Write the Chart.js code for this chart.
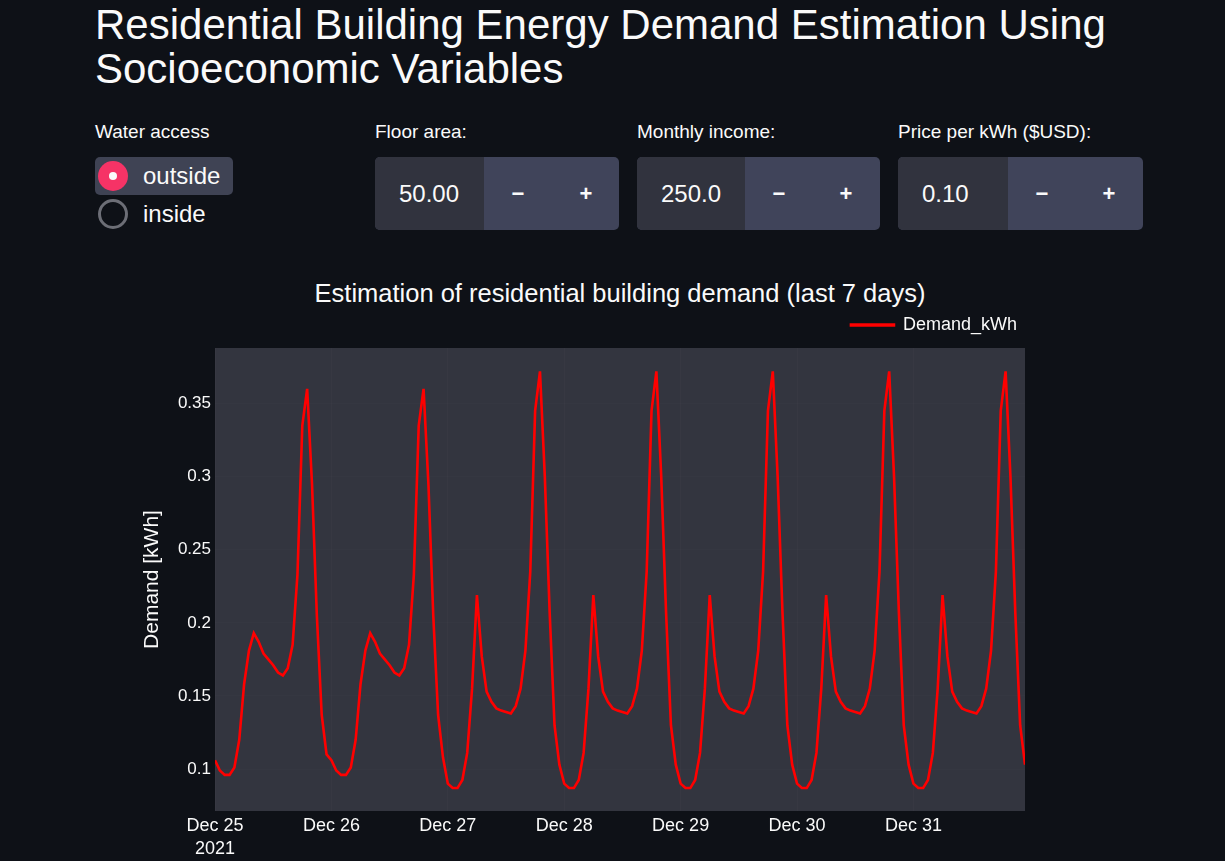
<!DOCTYPE html>
<html>
<head>
<meta charset="utf-8">
<script src="https://cdn.jsdelivr.net/npm/chart.js@4.4.1/dist/chart.umd.min.js"></script>
<style>
  body {
    margin: 0;
    width: 1225px;
    height: 861px;
    overflow: hidden;
    position: relative;
    background: #0e1117;
    color: #fafafa;
    font-family: "Liberation Sans", Arial, sans-serif;
  }
  h1 {
    position: absolute;
    left: 95px;
    top: 3px;
    margin: 0;
    font-size: 42px;
    line-height: 44px;
    font-weight: normal;
  }
  .label {
    position: absolute;
    top: 121px;
    font-size: 19px;
    line-height: 22px;
  }
  .radio {
    position: absolute;
    left: 95px;
    width: 138px;
    height: 38px;
    border-radius: 5px;
  }
  .radio.on { background: #3f4354; }
  .dot {
    position: absolute;
    left: 3px;
    top: 4px;
    width: 30px;
    height: 30px;
    border-radius: 50%;
    box-sizing: border-box;
  }
  .radio.on .dot { background: #f63366; }
  .radio.on .dot::after {
    content: "";
    position: absolute;
    left: 11px;
    top: 11px;
    width: 8px;
    height: 8px;
    border-radius: 50%;
    background: #fafafa;
  }
  .radio.off .dot { border: 3px solid #6c6e76; }
  .radio span {
    position: absolute;
    left: 48px;
    top: 0;
    line-height: 38px;
    font-size: 24px;
  }
  .num {
    position: absolute;
    top: 157px;
    height: 73px;
    border-radius: 5px;
    overflow: hidden;
    background: #40445a;
    font-size: 24px;
  }
  .num .val {
    position: absolute;
    left: 0;
    top: 0;
    height: 73px;
    background: #31333e;
    line-height: 73px;
    box-sizing: border-box;
    padding-left: 24px;
  }
  .num .btn {
    position: absolute;
    top: 0;
    line-height: 73px;
    font-weight: bold;
    font-size: 22px;
    transform: translateX(-50%);
  }
  #chartTitle {
    position: absolute;
    left: 0;
    width: 1240px;
    top: 278px;
    text-align: center;
    font-size: 25.5px;
    line-height: 30px;
  }
  #wrap {
    position: absolute;
    left: 100px;
    top: 308px;
  }
</style>
</head>
<body>
<h1>Residential Building Energy Demand Estimation Using<br>Socioeconomic Variables</h1>

<div class="label" style="left:95px">Water access</div>
<div class="radio on" style="top:157px"><div class="dot"></div><span>outside</span></div>
<div class="radio off" style="top:195px"><div class="dot"></div><span>inside</span></div>

<div class="label" style="left:375px">Floor area:</div>
<div class="num" style="left:375px;width:244px">
  <div class="val" style="width:109px">50.00</div>
  <div class="btn" style="left:143px">&minus;</div>
  <div class="btn" style="left:211px">+</div>
</div>

<div class="label" style="left:637px">Monthly income:</div>
<div class="num" style="left:637px;width:243px">
  <div class="val" style="width:108px">250.0</div>
  <div class="btn" style="left:142px">&minus;</div>
  <div class="btn" style="left:209px">+</div>
</div>

<div class="label" style="left:898px">Price per kWh ($USD):</div>
<div class="num" style="left:898px;width:245px">
  <div class="val" style="width:110px">0.10</div>
  <div class="btn" style="left:144px">&minus;</div>
  <div class="btn" style="left:211px">+</div>
</div>

<div id="chartTitle">Estimation of residential building demand (last 7 days)</div>
<div id="wrap"><canvas id="chart-demand" width="925" height="553"></canvas></div>

<script>
// hourly estimate, Dec 25 00:00 .. Dec 31 23:00
var dayTicks = [0, 24, 48, 72, 96, 120, 144];
var dayLabels = [['Dec 25', '2021'], 'Dec 26', 'Dec 27', 'Dec 28', 'Dec 29', 'Dec 30', 'Dec 31'];
var yTicks = [0.1, 0.15, 0.2, 0.25, 0.3, 0.35];
var yTickLabels = ['0.1', '0.15', '0.2', '0.25', '0.3', '0.35'];

var dec25 = [0.106, 0.099, 0.096, 0.096, 0.101, 0.120, 0.158, 0.181, 0.193, 0.187, 0.179, 0.175,
             0.171, 0.166, 0.164, 0.169, 0.185, 0.233, 0.335, 0.360, 0.295, 0.205, 0.137, 0.110];
var dec26 = [0.106, 0.099, 0.096, 0.096, 0.101, 0.120, 0.158, 0.181, 0.193, 0.187, 0.179, 0.175,
             0.171, 0.166, 0.164, 0.169, 0.185, 0.233, 0.335, 0.360, 0.295, 0.205, 0.137, 0.108];
var dec27 = [0.090, 0.087, 0.087, 0.0925, 0.111, 0.155, 0.219, 0.177, 0.153, 0.146, 0.1415, 0.140,
             0.139, 0.138, 0.143, 0.155, 0.181, 0.235, 0.345, 0.372, 0.300, 0.207, 0.130, 0.103];
var dec28 = [0.090, 0.087, 0.087, 0.0925, 0.111, 0.155, 0.219, 0.177, 0.153, 0.146, 0.1415, 0.140,
             0.139, 0.138, 0.143, 0.155, 0.181, 0.235, 0.345, 0.372, 0.300, 0.207, 0.130, 0.103];
var dec29 = [0.090, 0.087, 0.087, 0.0925, 0.111, 0.155, 0.219, 0.177, 0.153, 0.146, 0.1415, 0.140,
             0.139, 0.138, 0.143, 0.155, 0.181, 0.235, 0.345, 0.372, 0.300, 0.207, 0.130, 0.103];
var dec30 = [0.090, 0.087, 0.087, 0.0925, 0.111, 0.155, 0.219, 0.177, 0.153, 0.146, 0.1415, 0.140,
             0.139, 0.138, 0.143, 0.155, 0.181, 0.235, 0.345, 0.372, 0.300, 0.207, 0.130, 0.103];
var dec31 = [0.090, 0.087, 0.087, 0.0925, 0.111, 0.155, 0.219, 0.177, 0.153, 0.146, 0.1415, 0.140,
             0.139, 0.138, 0.143, 0.155, 0.181, 0.235, 0.345, 0.372, 0.300, 0.207, 0.130, 0.103];

var demandKwh = [].concat(dec25, dec26, dec27, dec28, dec29, dec30, dec31);

var fontFamily = '"Liberation Sans", Arial, sans-serif';
var textColor = '#fafafa';

// plot background like the plotly dark template
var plotBg = {
    id: 'plotBg',
    beforeDraw: function (chart) {
        var a = chart.chartArea;
        chart.ctx.save();
        chart.ctx.fillStyle = '#33353f';
        chart.ctx.fillRect(a.left, a.top, a.right - a.left, a.bottom - a.top);
        chart.ctx.restore();
    }
};

// a bit more room between legend and plot
var legendGap = {
    id: 'legendGap',
    beforeLayout: function (chart) {
        var lg = chart.legend;
        if (lg && !lg._gapPatched) {
            var fit = lg.fit;
            lg.fit = function () { fit.call(this); this.height += 4; };
            lg._gapPatched = true;
        }
    }
};

var ctx = document.getElementById('chart-demand').getContext('2d');
var demandChart = new Chart(ctx, {
    type: 'line',
    data: {
        datasets: [{
            label: 'Demand_kWh',
            data: demandKwh.map(function (v, i) { return { x: i, y: v }; }),
            borderColor: '#ff0000',
            backgroundColor: '#ff0000',
            borderWidth: 2.6,
            pointRadius: 0,
            tension: 0
        }]
    },
    options: {
        responsive: false,
        animation: false,
        layout: { padding: 0 },
        plugins: {
            legend: {
                position: 'top',
                align: 'end',
                labels: {
                    color: textColor,
                    font: { family: fontFamily, size: 18 },
                    boxWidth: 43,
                    boxHeight: 1,
                    padding: 8
                }
            },
            tooltip: { enabled: false }
        },
        scales: {
            x: {
                type: 'linear',
                min: 0,
                max: 167,
                afterBuildTicks: function (axis) {
                    axis.ticks = dayTicks.map(function (v) { return { value: v }; });
                },
                afterFit: function (axis) { axis.height = 50; },
                border: { display: false },
                grid: { color: 'rgba(255,255,255,0.02)', drawTicks: false },
                ticks: {
                    autoSkip: false,
                    maxRotation: 0,
                    padding: 4,
                    color: textColor,
                    font: { family: fontFamily, size: 18, lineHeight: 1.25 },
                    callback: function (v, i) { return dayLabels[i]; }
                }
            },
            y: {
                min: 0.0713,
                max: 0.388,
                afterBuildTicks: function (axis) {
                    axis.ticks = yTicks.map(function (v) { return { value: v }; });
                },
                afterFit: function (axis) { axis.width = 115; },
                border: { display: false },
                grid: { color: 'rgba(255,255,255,0.012)', drawTicks: false },
                title: {
                    display: true,
                    text: 'Demand [kWh]',
                    color: textColor,
                    font: { family: fontFamily, size: 21 },
                    padding: { top: 40, bottom: 0 }
                },
                ticks: {
                    padding: 4,
                    color: textColor,
                    font: { family: fontFamily, size: 17 },
                    callback: function (v, i) { return yTickLabels[i]; }
                }
            }
        }
    },
    plugins: [plotBg, legendGap]
});
</script>
</body>
</html>
